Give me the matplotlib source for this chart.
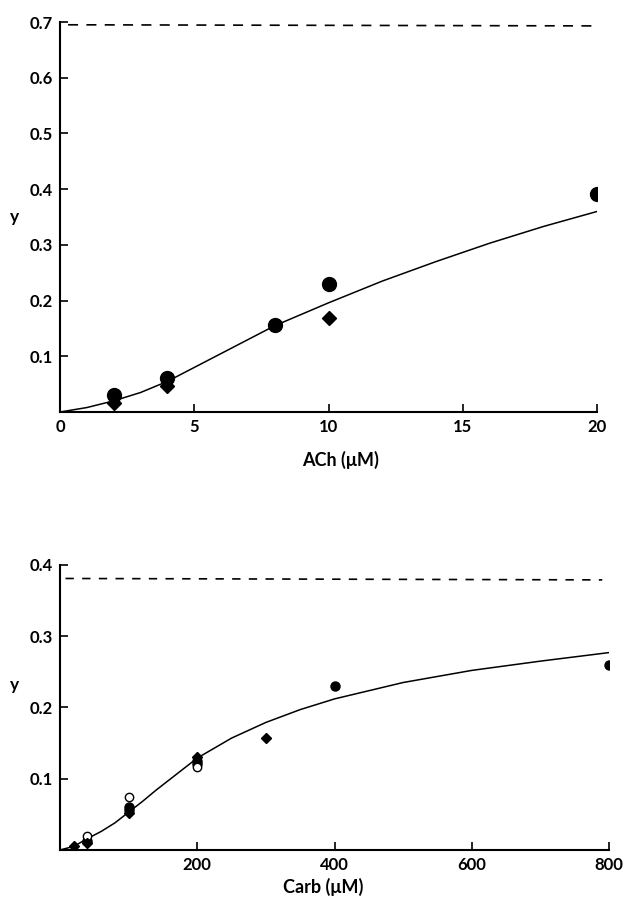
import matplotlib
matplotlib.use('Agg')
import matplotlib.pyplot as plt

plt.rcParams['font.family'] = ['Lato', 'DejaVu Sans']
plt.rcParams['font.weight'] = 'bold'

# ACh panel
ach_circ_x = [2, 4, 8, 10, 20]
ach_circ_y = [0.031, 0.061, 0.157, 0.230, 0.392]
ach_diam_x = [2, 4, 10]
ach_diam_y = [0.016, 0.047, 0.169]
ach_fit_x = [0, 1, 2, 3, 4, 5, 6, 7, 8, 10, 12, 14, 16, 18, 20]
ach_fit_y = [0.0, 0.008, 0.02, 0.035, 0.055, 0.08, 0.105, 0.13, 0.155,
             0.196, 0.235, 0.27, 0.303, 0.333, 0.36]
ach_max_x = [0.3, 19.9]
ach_max_y = [0.695, 0.693]
ach_xticks = [0, 5, 10, 15, 20]
ach_yticks = [0.1, 0.2, 0.3, 0.4, 0.5, 0.6, 0.7]

# Carb panel
carb_circ_x = [40, 100, 100, 200, 200, 400, 800]
carb_circ_y = [0.013, 0.060, 0.056, 0.125, 0.121, 0.230, 0.260]
carb_open_x = [40, 100, 200]
carb_open_y = [0.020, 0.074, 0.117]
carb_diam_x = [20, 40, 100, 200, 300]
carb_diam_y = [0.005, 0.010, 0.052, 0.130, 0.157]
carb_fit_x = [0, 20, 40, 60, 80, 100, 120, 140, 160, 180, 200, 250, 300,
              350, 400, 500, 600, 700, 800]
carb_fit_y = [0.0, 0.005, 0.016, 0.026, 0.038, 0.053, 0.068, 0.084, 0.099,
              0.114, 0.129, 0.157, 0.179, 0.197, 0.212, 0.235, 0.252, 0.265, 0.277]
carb_max_x = [8, 790]
carb_max_y = [0.381, 0.379]
carb_xticks = [200, 400, 600, 800]
carb_yticks = [0.1, 0.2, 0.3, 0.4]

fig = plt.figure(figsize=(6.29, 8.98), dpi=100)
ax1 = fig.add_axes([0.0954, 0.5412, 0.854, 0.4343])
ax2 = fig.add_axes([0.0954, 0.0535, 0.873, 0.3174])


def style(ax):
    for s in ['top', 'right']:
        ax.spines[s].set_visible(False)
    for s in ['left', 'bottom']:
        ax.spines[s].set_linewidth(1.5)
    ax.tick_params(direction='in', length=6, width=1.2, labelsize=12, pad=5)


ax1.plot(ach_fit_x, ach_fit_y, color='black', lw=1.1)
ax1.plot(ach_max_x, ach_max_y, color='black', lw=1.2, dashes=(6, 5))
ax1.plot(ach_circ_x, ach_circ_y, 'o', color='black', ms=10)
ax1.plot(ach_diam_x, ach_diam_y, 'D', color='black', ms=7)
ax1.set_xlim(0, 20)
ax1.set_ylim(0, 0.7)
ax1.set_xticks(ach_xticks)
ax1.set_xticklabels([str(v) for v in ach_xticks])
ax1.set_yticks(ach_yticks)
ax1.set_yticklabels(['%.1f' % v for v in ach_yticks])
style(ax1)
ax1.set_xlabel('ACh (μM)', fontsize=13, fontweight='bold')
ax1.xaxis.set_label_coords(0.523, -0.123)
ax1.xaxis.label.set_va('center')
ax1.set_ylabel('y', fontsize=12.5, fontweight='bold', rotation=0)
ax1.yaxis.set_label_coords(-0.084, 0.5)
ax1.yaxis.label.set_va('center')

ax2.plot(carb_fit_x, carb_fit_y, color='black', lw=1.1)
ax2.plot(carb_max_x, carb_max_y, color='black', lw=1.2, dashes=(5, 5))
ax2.plot(carb_circ_x, carb_circ_y, 'o', color='black', ms=6.5)
ax2.plot(carb_open_x, carb_open_y, 'o', mfc='white', mec='black', mew=1.0, ms=6)
ax2.plot(carb_diam_x, carb_diam_y, 'D', color='black', ms=5)
ax2.set_xlim(0, 800)
ax2.set_ylim(0, 0.4)
ax2.set_xticks(carb_xticks)
ax2.set_xticklabels([str(v) for v in carb_xticks])
ax2.set_yticks(carb_yticks)
ax2.set_yticklabels(['%.1f' % v for v in carb_yticks])
style(ax2)
ax2.set_xlabel('Carb (μM)', fontsize=13, fontweight='bold')
ax2.xaxis.set_label_coords(0.479, -0.13)
ax2.xaxis.label.set_va('center')
ax2.set_ylabel('y', fontsize=12.5, fontweight='bold', rotation=0)
ax2.yaxis.set_label_coords(-0.082, 0.579)
ax2.yaxis.label.set_va('center')

fig.savefig('out.png', dpi=100)
